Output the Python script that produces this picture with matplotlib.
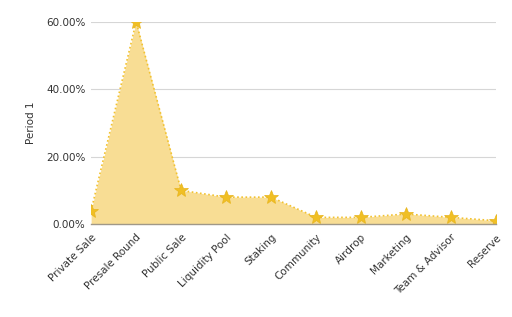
import matplotlib
matplotlib.use("Agg")
import matplotlib.pyplot as plt
from matplotlib.ticker import FuncFormatter

# ---------- Data ----------
categories = ["Private Sale", "Presale Round", "Public Sale", "Liquidity Pool", "Staking",
              "Community", "Airdrop", "Marketing", "Team & Advisor", "Reserve"]
period1 = [4, 60, 10, 8, 8, 2, 2, 3, 2, 1]
yticks = [0, 20, 40, 60]

line_color = "#f2c230"
fill_color = "#f8dd94"

fig = plt.figure(figsize=(5.12, 3.17), dpi=100)
ax = fig.add_axes([0.178, 0.293, 0.791, 0.638])

x = list(range(len(categories)))
ax.fill_between(x, period1, 0, color=fill_color, linewidth=0, zorder=2)
ax.plot(x, period1, color=line_color, linestyle=(0, (1, 1.5)), linewidth=1.2, zorder=3)
# edge markers get cut by the plot box, like the original
ax.plot(x, period1, linestyle="none", marker="*", markersize=10, color="#f0bf25",
        markeredgecolor="#e8b41c", markeredgewidth=0.5, zorder=4, clip_on=True)

ax.set_xlim(0, len(categories) - 1)
ax.set_ylim(0, 60)
ax.set_yticks(yticks)
ax.yaxis.set_major_formatter(FuncFormatter(lambda v, p: f"{v:.2f}%"))
ax.grid(axis="y", color="#d6d6d6", linewidth=0.8, zorder=0)
ax.set_axisbelow(True)

for s in ["top", "right", "left"]:
    ax.spines[s].set_visible(False)
ax.spines["bottom"].set_color("#a09888")
ax.spines["bottom"].set_linewidth(1.0)
ax.spines["bottom"].set_zorder(5)

ax.tick_params(axis="both", length=0, labelsize=7.5, colors="#333333", pad=4)
ax.tick_params(axis="x", pad=6)
ax.set_xticks(x)
ax.set_xticklabels(categories, rotation=45, ha="right", rotation_mode="anchor")
ax.set_ylabel("Period 1", fontsize=7.5, color="#333333", labelpad=7)

fig.savefig("out.png", dpi=100)
